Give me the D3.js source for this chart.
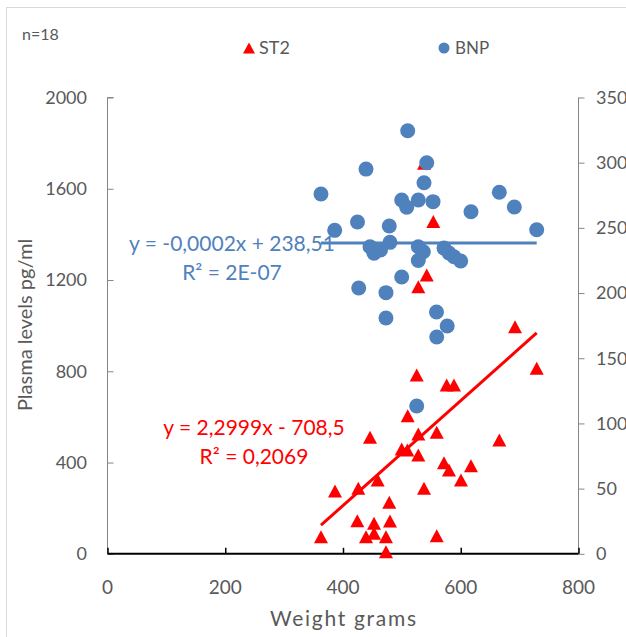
<!DOCTYPE html>
<html>
<head>
<meta charset="utf-8">
<script src="https://cdn.jsdelivr.net/npm/d3@7"></script>
<style>
  body { margin: 0; background: #fff; }
  svg text { font-family: Lato, "Liberation Sans", sans-serif; }
</style>
</head>
<body>
<svg id="chart" width="626" height="637"></svg>
<script>
// ST2 (left axis, pg/ml) against weight in grams
var st2Weight = [537.6, 553.4, 542.2, 527.9, 692.2, 729, 525.2, 576.1, 588.5, 509.9,
	445.9, 527.9, 559.2, 665.5, 499.7, 509.2, 527.9, 571.5, 580, 617.4,
	600.4, 458.9, 426, 386.4, 537.6, 478.6, 424.3, 452.7, 479.8, 439.1,
	452.7, 473, 362.6, 559.2, 473];
var st2Values = [1712, 1456, 1222, 1171, 995, 813, 784, 740, 740, 605,
	511, 525, 533, 499, 459, 455, 433, 399, 367, 386,
	324, 324, 287, 275, 287, 226, 145, 134, 144, 75,
	90, 75, 75, 79, 9];
// BNP (right axis) against weight in grams
var bnpWeight = [509.9, 542.2, 439.1, 537.6, 362.6, 665.5, 499.7, 527.9, 552.9, 508.2,
	691, 617.4, 424.6, 385.9, 478.6, 729, 479.8, 445.9, 452.7, 463.7,
	527.9, 536.4, 527.9, 571.5, 580, 588.5, 599.9, 499.7, 426.7, 473,
	558.8, 473, 577, 559.2, 525.2];
var bnpValues = [324.5, 300, 295.1, 284.6, 276, 277.3, 271.4, 271.4, 270.1, 265.8,
	266, 262.4, 254.5, 248.1, 251.4, 248.6, 238.9, 235.5, 230.5, 233,
	235.5, 231.7, 225, 234.5, 230.7, 227.9, 224.6, 212.3, 203.9, 200.3,
	185.5, 180.9, 174.7, 166.3, 113.4];
// trend lines [slope, intercept]
var st2Trend = [2.2999, -708.5];
var bnpTrend = [-0.0002, 238.51];
var st2Label = ['y = 2,2999x - 708,5', 'R² = 0,2069'];
var bnpLabel = ['y = -0,0002x + 238,51', 'R² = 2E-07'];
var xTicks = [0, 200, 400, 600, 800];
var leftTicks = [0, 400, 800, 1200, 1600, 2000];
var rightTicks = [0, 50, 100, 150, 200, 250, 300, 350];

var red = '#ff0000', blue = '#4f81bd', grey = '#595959';
var plotL = 107.5, plotR = 578.5, plotT = 97.5, plotB = 553.8;

var svg = d3.select('#chart');
svg.append('rect')
	.attr('x', 6.5).attr('y', 7.5)
	.attr('width', 700).attr('height', 700)
	.attr('fill', 'none')
	.attr('stroke', '#d9d9d9');

var x = d3.scaleLinear().domain([0, 800]).range([plotL, plotR]);
var yL = d3.scaleLinear().domain([0, 2000]).range([plotB, plotT]);
var yR = d3.scaleLinear().domain([0, 350]).range([plotB, plotT]);

// left axis, ticks pointing inward
var gl = svg.append('g').attr('transform', 'translate(' + plotL + ',0)')
	.call(d3.axisRight(yL).tickValues(leftTicks).tickSize(6).tickFormat(''));
gl.selectAll('line, path').attr('stroke', '#868686');
gl.select('.domain').attr('d', 'M6,' + plotT + 'H0V' + plotB);
svg.selectAll('.ltick').data(leftTicks).enter().append('text')
	.attr('x', 87).attr('y', function(d){ return yL(d); })
	.attr('dy', '0.35em').attr('text-anchor', 'end')
	.attr('font-size', 18).attr('fill', grey)
	.text(function(d){ return d; });

// right axis, ticks pointing outward
var gr = svg.append('g').attr('transform', 'translate(' + plotR + ',0)')
	.call(d3.axisRight(yR).tickValues(rightTicks).tickSize(6).tickFormat(''));
gr.selectAll('line, path').attr('stroke', '#868686');
gr.select('.domain').attr('d', 'M0,' + plotT + 'V' + plotB);
svg.selectAll('.rtick').data(rightTicks).enter().append('text')
	.attr('x', 596).attr('y', function(d){ return yR(d); })
	.attr('dy', '0.35em').attr('text-anchor', 'start')
	.attr('font-size', 18).attr('fill', grey)
	.text(function(d){ return d; });

// bottom axis, black with inward ticks
var gb = svg.append('g').attr('transform', 'translate(0,' + plotB + ')')
	.call(d3.axisTop(x).tickValues(xTicks).tickSize(6).tickFormat(''));
gb.selectAll('line').attr('stroke', '#000').attr('stroke-width', 1.5);
gb.select('.domain').attr('d', 'M' + plotL + ',0H' + plotR).attr('stroke', '#000').attr('stroke-width', 2);
svg.selectAll('.xtick').data(xTicks).enter().append('text')
	.attr('x', function(d){ return x(d); }).attr('y', 587)
	.attr('dy', '0.35em').attr('text-anchor', 'middle')
	.attr('font-size', 19).attr('fill', grey)
	.text(function(d){ return d; });

// titles
svg.append('text')
	.attr('x', 343).attr('y', 619).attr('dy', '0.35em')
	.attr('text-anchor', 'middle').attr('font-size', 21).attr('fill', grey)
	.attr('textLength', 146).attr('lengthAdjust', 'spacing')
	.text('Weight grams');
svg.append('text')
	.attr('transform', 'translate(25,325) rotate(-90)').attr('dy', '0.35em')
	.attr('text-anchor', 'middle').attr('font-size', 20).attr('fill', grey)
	.text('Plasma levels pg/ml');
svg.append('text')
	.attr('x', 22).attr('y', 34).attr('dy', '0.35em')
	.attr('font-size', 16).attr('fill', grey)
	.text('n=18');

// legend
var tri = function(cx, cy, w, h){
	return 'M' + cx + ',' + (cy - h / 2) + 'L' + (cx + w / 2) + ',' + (cy + h / 2) + 'L' + (cx - w / 2) + ',' + (cy + h / 2) + 'Z';
};
svg.append('path').attr('d', tri(249, 48, 12, 11)).attr('fill', red);
svg.append('text').attr('x', 259).attr('y', 48).attr('dy', '0.35em')
	.attr('font-size', 18).attr('fill', grey).text('ST2');
svg.append('circle').attr('cx', 444).attr('cy', 48).attr('r', 5.5).attr('fill', blue);
svg.append('text').attr('x', 455).attr('y', 48).attr('dy', '0.35em')
	.attr('font-size', 17).attr('fill', grey).text('BNP');

// ST2 markers
var st2Data = st2Weight.map(function(w, i){ return [w, st2Values[i]]; });
svg.selectAll('.st2').data(st2Data).enter().append('path')
	.attr('class', 'st2')
	.attr('d', function(d){ return tri(x(d[0]), yL(d[1]), 14, 13); })
	.attr('fill', red);

// BNP markers
var bnpData = bnpWeight.map(function(w, i){ return [w, bnpValues[i]]; });
svg.selectAll('.bnp').data(bnpData).enter().append('circle')
	.attr('class', 'bnp')
	.attr('cx', function(d){ return x(d[0]); })
	.attr('cy', function(d){ return yR(d[1]); })
	.attr('r', 7.5)
	.attr('fill', blue);

// trend labels
svg.append('text').attr('x', 232).attr('y', 244).attr('dy', '0.35em')
	.attr('text-anchor', 'middle').attr('font-size', 21).attr('fill', blue).text(bnpLabel[0]);
svg.append('text').attr('x', 232).attr('y', 273).attr('dy', '0.35em')
	.attr('text-anchor', 'middle').attr('font-size', 21).attr('fill', blue).text(bnpLabel[1]);
svg.append('text').attr('x', 254).attr('y', 428).attr('dy', '0.35em')
	.attr('text-anchor', 'middle').attr('font-size', 21).attr('fill', red).text(st2Label[0]);
svg.append('text').attr('x', 254).attr('y', 457).attr('dy', '0.35em')
	.attr('text-anchor', 'middle').attr('font-size', 21).attr('fill', red).text(st2Label[1]);

// trend lines across the data range
var line = d3.line();
var st2Ext = d3.extent(st2Weight);
svg.append('path')
	.attr('d', line(st2Ext.map(function(w){ return [x(w), yL(st2Trend[0] * w + st2Trend[1])]; })))
	.attr('stroke', red).attr('stroke-width', 3).attr('fill', 'none');
var bnpExt = d3.extent(bnpWeight);
svg.append('path')
	.attr('d', line(bnpExt.map(function(w){ return [x(w), yR(bnpTrend[0] * w + bnpTrend[1])]; })))
	.attr('stroke', blue).attr('stroke-width', 3).attr('fill', 'none');
</script>
</body>
</html>
